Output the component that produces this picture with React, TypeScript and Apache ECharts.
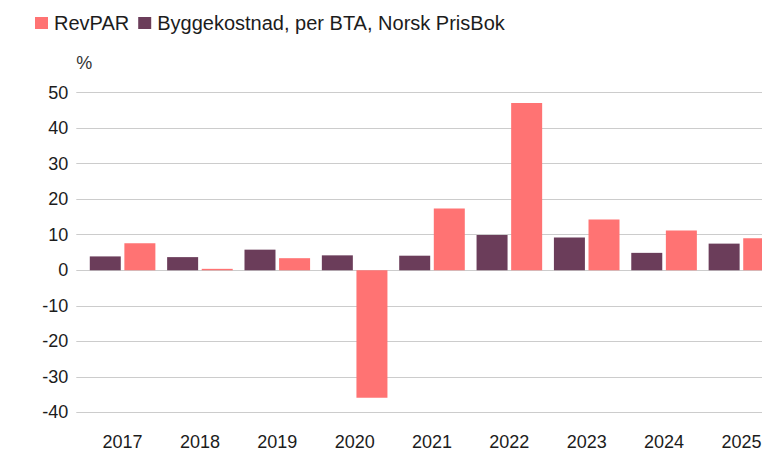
import React, { useEffect, useRef } from "react";
import * as echarts from "echarts";

const categories = ["2017", "2018", "2019", "2020", "2021", "2022", "2023", "2024", "2025"];
const byggekostnad = [3.9, 3.7, 5.8, 4.2, 4.1, 9.9, 9.2, 4.9, 7.5];
const revpar = [7.6, 0.4, 3.4, -35.9, 17.4, 47.1, 14.3, 11.2, 9.0];
const yTicks = { min: -40, max: 50, interval: 10 };

const FONT = "'Liberation Sans', Arial, sans-serif";
const TEXT = "#1c1c1c";
const SALMON = "#FF7373";
const PURPLE = "#6B3D5A";

export default function App() {
  const ref = useRef<HTMLDivElement>(null);
  useEffect(() => {
    if (!ref.current) return;
    const chart = echarts.init(ref.current, undefined, { renderer: "svg" });
    chart.setOption({
      animation: false,
      textStyle: { fontFamily: FONT },
      legend: {
        left: 30,
        top: 8,
        itemWidth: 13,
        itemHeight: 12,
        itemGap: 9,
        icon: "rect",
        data: ["RevPAR", "Byggekostnad, per BTA, Norsk PrisBok"],
        textStyle: { fontSize: 20, color: TEXT, fontFamily: FONT, padding: [0, 0, 0, 1] },
      },
      grid: [
        { left: 83.9, right: -18.1, top: 92.6, bottom: 38.6, outerBoundsMode: "none", containLabel: false },
        { left: 76.3, right: 0, top: 92.6, bottom: 38.6, outerBoundsMode: "none", containLabel: false },
      ],
      xAxis: [
        {
          type: "category",
          gridIndex: 0,
          data: categories,
          axisLine: { show: false, onZero: false },
          axisTick: { show: false },
          axisLabel: { fontSize: 18, color: TEXT, margin: 21, fontFamily: FONT },
        },
        { type: "value", gridIndex: 1, show: false, min: 0, max: 1 },
      ],
      yAxis: [
        { type: "value", gridIndex: 0, ...yTicks, show: false, splitLine: { show: false } },
        {
          type: "value",
          gridIndex: 1,
          ...yTicks,
          name: "%",
          nameLocation: "end",
          nameGap: 21,
          nameTextStyle: { fontSize: 18, color: "#333", align: "left", fontFamily: FONT },
          axisLine: { show: false },
          axisTick: { show: false },
          axisLabel: { fontSize: 18, color: TEXT, margin: 8, fontFamily: FONT },
          splitLine: { show: true, lineStyle: { color: "#cccccc", width: 1 } },
        },
      ],
      series: [
        {
          name: "Byggekostnad, per BTA, Norsk PrisBok",
          type: "bar",
          xAxisIndex: 0,
          yAxisIndex: 0,
          data: byggekostnad,
          barWidth: 31,
          barGap: "11.6%",
          itemStyle: { color: PURPLE },
        },
        {
          name: "RevPAR",
          type: "bar",
          xAxisIndex: 0,
          yAxisIndex: 0,
          data: revpar,
          barWidth: 31,
          barGap: "11.6%",
          itemStyle: { color: SALMON },
        },
      ],
    });
    return () => chart.dispose();
  }, []);
  return (
    <div
      ref={ref}
      style={{ position: "fixed", left: 0, top: 0, width: 762, height: 451, background: "#fff" }}
    />
  );
}
